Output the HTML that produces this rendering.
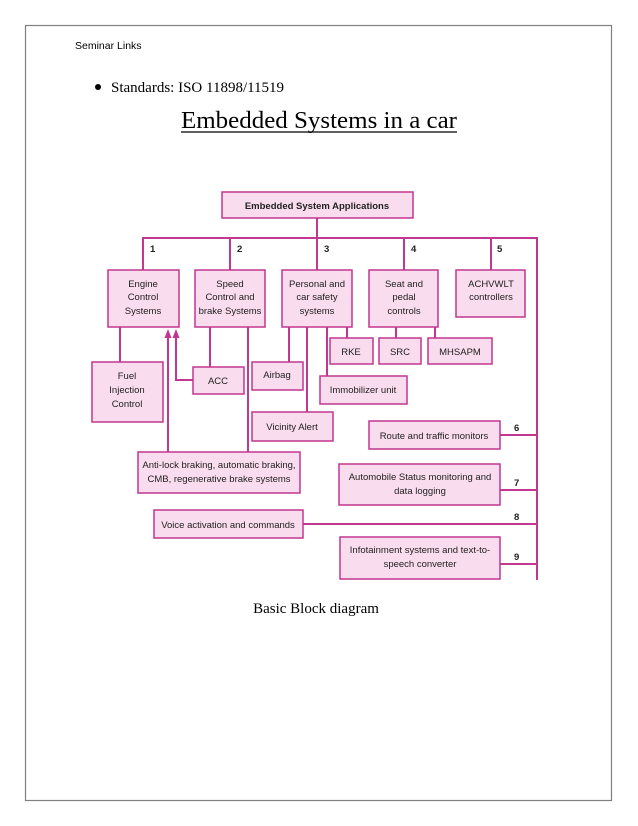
<!DOCTYPE html>
<html><head><meta charset="utf-8"><style>
body{margin:0;background:#fff;}
svg{display:block}
</style></head><body>
<svg width="638" height="826" viewBox="0 0 638 826" xmlns="http://www.w3.org/2000/svg">
<rect x="25.5" y="25.5" width="586" height="775" fill="none" stroke="#808080" stroke-width="1.2"/>
<text x="75" y="49" font-family="Liberation Sans, sans-serif" font-size="10.5" fill="#000">Seminar Links</text>
<circle cx="98" cy="87" r="3" fill="#000"/>
<text x="111" y="92" font-family="Liberation Serif, serif" font-size="15" fill="#000">Standards: ISO 11898/11519</text>
<text x="181" y="128" font-family="Liberation Serif, serif" font-size="24" textLength="276" lengthAdjust="spacingAndGlyphs" fill="#000">Embedded Systems in a car</text>
<line x1="181" y1="132" x2="457" y2="132" stroke="#000" stroke-width="1.2"/>
<text x="316" y="613" text-anchor="middle" font-family="Liberation Serif, serif" font-size="15" fill="#000">Basic Block diagram</text>

<g stroke="#c2378f" stroke-width="2" fill="none">
<line x1="317" y1="218" x2="317" y2="238"/>
<polyline points="143,270 143,238 537,238 537,580"/>
<line x1="230" y1="238" x2="230" y2="270"/>
<line x1="317" y1="238" x2="317" y2="270"/>
<line x1="404" y1="238" x2="404" y2="270"/>
<line x1="491" y1="238" x2="491" y2="270"/>
<line x1="120" y1="327" x2="120" y2="362"/>
<line x1="168" y1="452" x2="168" y2="336"/>
<polyline points="193,380 176,380 176,336"/>
<line x1="210" y1="327" x2="210" y2="367"/>
<line x1="248" y1="327" x2="248" y2="452"/>
<line x1="289" y1="327" x2="289" y2="362"/>
<line x1="307" y1="327" x2="307" y2="412"/>
<line x1="327" y1="327" x2="327" y2="376"/>
<line x1="347" y1="327" x2="347" y2="338"/>
<line x1="396" y1="327" x2="396" y2="338"/>
<line x1="435" y1="327" x2="435" y2="338"/>
<line x1="500" y1="435" x2="537" y2="435"/>
<line x1="500" y1="490" x2="537" y2="490"/>
<line x1="303" y1="524" x2="537" y2="524"/>
<line x1="500" y1="564" x2="537" y2="564"/>
</g>
<g fill="#c2378f">
<polygon points="168,329 164.5,338 171.5,338"/>
<polygon points="176,329 172.5,338 179.5,338"/>
</g>
<g fill="#f9dcee" stroke="#c2378f" stroke-width="1.5">
<rect x="222" y="192" width="191" height="26"/>
<rect x="108" y="270" width="71" height="57"/>
<rect x="195" y="270" width="70" height="57"/>
<rect x="282" y="270" width="70" height="57"/>
<rect x="369" y="270" width="69" height="57"/>
<rect x="456" y="270" width="69" height="47"/>
<rect x="92" y="362" width="71" height="60"/>
<rect x="193" y="367" width="51" height="27"/>
<rect x="252" y="362" width="51" height="28"/>
<rect x="320" y="376" width="87" height="28"/>
<rect x="330" y="338" width="43" height="26"/>
<rect x="379" y="338" width="42" height="26"/>
<rect x="428" y="338" width="64" height="26"/>
<rect x="252" y="412" width="81" height="29"/>
<rect x="369" y="421" width="131" height="28"/>
<rect x="138" y="452" width="162" height="41"/>
<rect x="339" y="464" width="161" height="41"/>
<rect x="154" y="510" width="149" height="28"/>
<rect x="340" y="537" width="160" height="42"/>
</g>
<g font-family="Liberation Sans, sans-serif" font-size="9.5" fill="#222" text-anchor="middle">
<text x="317" y="209" font-weight="bold">Embedded System Applications</text>
<text x="143" y="287">Engine</text><text x="143" y="300">Control</text><text x="143" y="314">Systems</text>
<text x="230" y="287">Speed</text><text x="230" y="300">Control and</text><text x="230" y="314">brake Systems</text>
<text x="317" y="287">Personal and</text><text x="317" y="300">car safety</text><text x="317" y="314">systems</text>
<text x="404" y="287">Seat and</text><text x="404" y="300">pedal</text><text x="404" y="314">controls</text>
<text x="491" y="287">ACHVWLT</text><text x="491" y="300">controllers</text>
<text x="127" y="379">Fuel</text><text x="127" y="393">Injection</text><text x="127" y="407">Control</text>
<text x="218" y="384">ACC</text>
<text x="277" y="378">Airbag</text>
<text x="363" y="393">Immobilizer unit</text>
<text x="351" y="355">RKE</text>
<text x="400" y="355">SRC</text>
<text x="460" y="355">MHSAPM</text>
<text x="292" y="430">Vicinity Alert</text>
<text x="434" y="439">Route and traffic monitors</text>
<text x="219" y="468">Anti-lock braking, automatic braking,</text>
<text x="219" y="482">CMB, regenerative brake systems</text>
<text x="420" y="480">Automobile Status monitoring and</text>
<text x="420" y="494">data logging</text>
<text x="228" y="528">Voice activation and commands</text>
<text x="420" y="553">Infotainment systems and text-to-</text>
<text x="420" y="567">speech converter</text>
</g>
<g font-family="Liberation Sans, sans-serif" font-size="9.5" font-weight="bold" fill="#222">
<text x="150" y="252">1</text><text x="237" y="252">2</text><text x="324" y="252">3</text><text x="411" y="252">4</text><text x="497" y="252">5</text>
<text x="514" y="431">6</text><text x="514" y="486">7</text><text x="514" y="520">8</text><text x="514" y="560">9</text>
</g>
</svg>
</body></html>
